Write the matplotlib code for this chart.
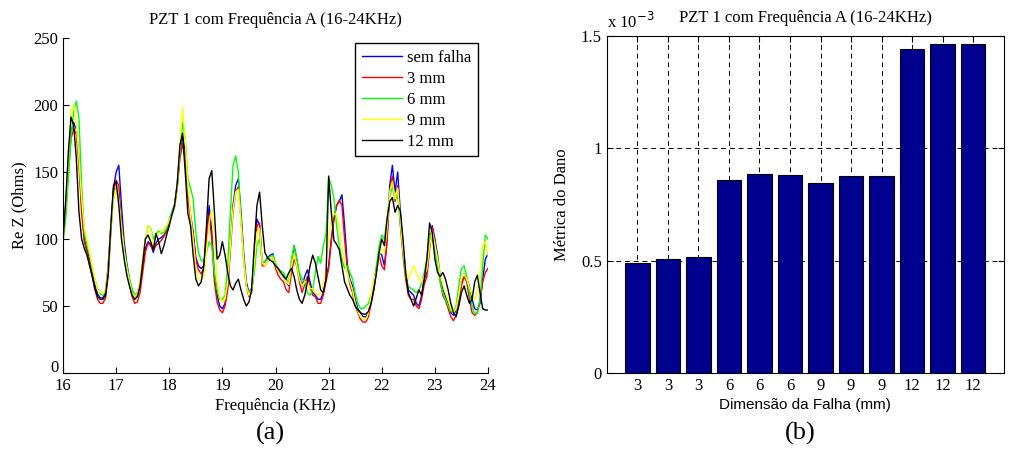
import numpy as np
import matplotlib
matplotlib.use("Agg")
import matplotlib.pyplot as plt
import matplotlib.transforms as mtransforms

plt.rcParams['font.family'] = ['Liberation Serif', 'DejaVu Serif']

# frequency grid (KHz), step 0.05
freq = np.round(np.arange(16.0, 24.0001, 0.05), 2)

# Re Z (Ohms), one row per 0.5 KHz
sem_falha = [
    105, 125, 155, 180, 187, 182, 160, 125, 100, 93,
    85, 75, 66, 59, 56, 56, 60, 80, 110, 138,
    150, 155, 125, 98, 82, 70, 62, 57, 58, 65,
    80, 93, 98, 96, 90, 97, 100, 101, 103, 106,
    114, 120, 126, 140, 165, 177, 165, 135, 118, 105,
    86, 80, 78, 80, 100, 125, 105, 72, 58, 50,
    48, 52, 65, 95, 125, 140, 145, 120, 90, 68,
    60, 63, 85, 115, 110, 82, 83, 86, 88, 89,
    80, 76, 74, 73, 68, 65, 80, 95, 85, 72,
    65, 72, 77, 68, 60, 58, 55, 55, 60, 70,
    80, 100, 115, 125, 128, 133, 110, 82, 70, 65,
    55, 48, 45, 42, 42, 45, 55, 65, 78, 90,
    88, 80, 100, 140, 155, 135, 150, 120, 95, 75,
    62, 60, 58, 52, 50, 58, 70, 75, 95, 110,
    100, 88, 72, 62, 57, 52, 45, 43, 47, 55,
    68, 74, 70, 65, 55, 48, 47, 52, 70, 85,
    89]
falha_3 = [
    100, 120, 150, 175, 182, 178, 155, 120, 98, 90,
    82, 72, 62, 55, 52, 52, 56, 72, 105, 135,
    144, 140, 115, 92, 78, 66, 57, 52, 53, 60,
    75, 90, 97, 95, 92, 95, 97, 99, 102, 106,
    113, 118, 124, 138, 160, 171, 160, 130, 115, 104,
    84, 77, 74, 78, 100, 118, 100, 68, 53, 47,
    45, 50, 62, 92, 120, 135, 139, 115, 86, 65,
    57, 60, 80, 110, 112, 80, 80, 83, 85, 86,
    78, 73, 70, 68, 62, 60, 75, 85, 80, 68,
    60, 66, 72, 64, 58, 57, 52, 52, 58, 68,
    78, 98, 115, 125, 129, 125, 100, 78, 66, 60,
    50, 45, 40, 38, 38, 42, 52, 62, 75, 88,
    80, 77, 98, 135, 147, 128, 140, 110, 88, 70,
    58, 55, 55, 50, 48, 55, 66, 72, 92, 109,
    98, 84, 68, 58, 54, 48, 42, 39, 43, 52,
    65, 72, 68, 55, 45, 43, 45, 55, 68, 75,
    78]
falha_6 = [
    98, 115, 145, 175, 195, 203, 190, 140, 105, 95,
    88, 78, 70, 63, 59, 58, 62, 78, 108, 130,
    138, 130, 110, 92, 80, 70, 63, 58, 60, 68,
    85, 100, 110, 108, 100, 104, 106, 104, 105, 108,
    115, 120, 125, 140, 165, 187, 175, 145, 138, 130,
    105, 90, 84, 83, 90, 98, 95, 75, 62, 55,
    55, 58, 80, 120, 155, 162, 150, 115, 85, 65,
    60, 62, 75, 95, 100, 82, 83, 85, 87, 88,
    82, 78, 76, 75, 70, 68, 85, 95, 85, 75,
    70, 68, 60, 58, 62, 75, 87, 82, 95, 103,
    146, 140, 130, 110, 95, 85, 78, 80, 75, 70,
    60, 52, 48, 48, 50, 52, 58, 68, 80, 95,
    103, 100, 115, 132, 139, 130, 132, 112, 92, 72,
    65, 63, 62, 60, 62, 67, 75, 85, 104, 100,
    92, 80, 68, 60, 55, 50, 46, 45, 50, 65,
    78, 80, 72, 60, 50, 44, 45, 55, 80, 103,
    100]
falha_9 = [
    102, 125, 160, 195, 200, 185, 160, 130, 108, 100,
    90, 80, 70, 62, 60, 59, 62, 78, 108, 130,
    137, 128, 108, 90, 78, 68, 60, 57, 59, 68,
    85, 100, 110, 108, 95, 102, 104, 106, 108, 110,
    114, 118, 124, 140, 170, 198, 175, 140, 118, 100,
    78, 70, 69, 72, 90, 112, 122, 100, 70, 57,
    53, 55, 68, 95, 122, 135, 137, 112, 85, 65,
    58, 62, 82, 105, 108, 82, 80, 83, 85, 86,
    80, 76, 74, 72, 68, 66, 80, 89, 80, 70,
    65, 68, 68, 63, 63, 60, 58, 60, 66, 78,
    100, 115, 119, 118, 110, 95, 82, 75, 68, 62,
    52, 46, 42, 40, 40, 45, 58, 70, 75, 88,
    92, 90, 108, 135, 143, 130, 138, 115, 92, 78,
    70, 75, 80, 75, 70, 68, 72, 78, 95, 106,
    96, 85, 73, 66, 60, 54, 48, 45, 48, 58,
    70, 74, 70, 64, 58, 55, 60, 75, 95, 98,
    88]
falha_12 = [
    100, 128, 165, 191, 185, 160, 120, 100, 93, 88,
    80, 72, 63, 57, 55, 55, 58, 75, 110, 140,
    143, 125, 100, 85, 73, 65, 58, 55, 57, 65,
    82, 100, 103, 98, 92, 104, 98, 89, 95, 103,
    110, 118, 125, 142, 170, 179, 150, 119, 110, 88,
    70, 65, 68, 80, 110, 145, 151, 120, 85, 88,
    98, 88, 75, 65, 62, 67, 70, 62, 55, 50,
    53, 62, 95, 125, 135, 110, 90, 86, 84, 83,
    80, 78, 75, 72, 70, 75, 78, 72, 62, 55,
    52, 58, 68, 80, 88, 82, 72, 62, 60, 70,
    147, 120, 99, 96, 92, 80, 68, 63, 58, 55,
    50, 47, 45, 44, 44, 46, 52, 62, 75, 90,
    100, 95, 115, 128, 131, 120, 125, 121, 100, 75,
    60, 55, 50, 56, 62, 58, 70, 85, 112, 105,
    85, 75, 72, 75, 70, 62, 52, 45, 42, 50,
    60, 65, 58, 52, 55, 68, 73, 60, 48, 47,
    47]

series = [sem_falha, falha_3, falha_6, falha_9, falha_12]
labels = ['sem falha', '3 mm', '6 mm', '9 mm', '12 mm']
colors = ['#0000ff', '#ff0000', '#00ff00', '#ffff00', '#000000']

# damage metric (x 1e-3) per test
dim_labels = ['3', '3', '3', '6', '6', '6', '9', '9', '9', '12', '12', '12']
metrica = [0.491, 0.507, 0.518, 0.858, 0.884, 0.880,
           0.846, 0.877, 0.877, 1.441, 1.463, 1.463]

title = 'PZT 1 com Frequência A (16-24KHz)'
fs = 12

fig = plt.figure(figsize=(10.25, 4.53), dpi=100)

# (a) impedance curves
ax1 = fig.add_axes([0.0615, 0.1766, 0.4146, 0.7395])
for s, lab, c in zip(series, labels, colors):
    ax1.plot(freq, s, color=c, lw=1.0, label=lab)
ax1.set_xlim(16, 24)
ax1.set_ylim(0, 250)
ax1.set_xticks(range(16, 25))
ax1.set_yticks(range(0, 251, 50))
ax1.spines['top'].set_visible(False)
ax1.spines['right'].set_visible(False)
ax1.tick_params(direction='in', labelsize=fs, length=4)
# matlab puts the "0" slightly above the "16"
zero_lab = ax1.get_yticklabels()[0]
zero_lab.set_transform(zero_lab.get_transform() +
                       mtransforms.ScaledTranslation(0, 5 / 72, fig.dpi_scale_trans))
ax1.set_xlabel('Frequência (KHz)', fontsize=fs, labelpad=3)
ax1.set_ylabel('Re Z (Ohms)', fontsize=fs, labelpad=4)
ax1.set_title(title, fontsize=fs, pad=10)
leg = ax1.legend(loc='upper right', bbox_to_anchor=(0.976, 0.985), fontsize=fs,
                 fancybox=False, framealpha=1, edgecolor='black',
                 handlelength=2.4, handletextpad=0.3, labelspacing=0.3,
                 borderpad=0.4, borderaxespad=0)
leg.get_frame().set_linewidth(1.0)

# (b) damage metric bars
ax2 = fig.add_axes([0.592, 0.1766, 0.3873, 0.744])
x = np.arange(1, len(metrica) + 1)
ax2.bar(x, metrica, width=0.8, color='#00008f', edgecolor='black', lw=0.8, zorder=2)
ax2.set_xlim(0, 13)
ax2.set_ylim(0, 1.5)
ax2.set_xticks(x)
ax2.set_xticklabels(dim_labels)
ax2.set_yticks([0, 0.5, 1, 1.5])
ax2.set_yticklabels(['0', '0.5', '1', '1.5'])
ax2.grid(True, color='black', ls=(0, (5, 4)), lw=0.7, zorder=0)
ax2.set_axisbelow(True)
ax2.tick_params(direction='in', labelsize=fs, length=4, top=True, right=True)
ax2.set_xlabel('Dimensão da Falha (mm)', fontsize=11, labelpad=3,
               family=['Liberation Sans', 'DejaVu Sans'])
ax2.set_ylabel('Métrica do Dano', fontsize=fs, labelpad=8)
ax2.set_title(title, fontsize=fs, pad=10)
ax2.text(0.0, 1.012, 'x 10$^{-3}$', transform=ax2.transAxes, fontsize=fs,
         ha='left', va='bottom')

fig.text(0.264, 0.03, '(a)', fontsize=19, ha='center')
fig.text(0.781, 0.03, '(b)', fontsize=19, ha='center')

fig.savefig('out.png', dpi=100)
